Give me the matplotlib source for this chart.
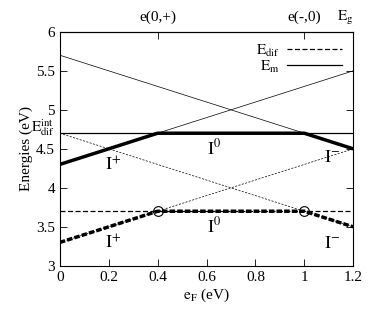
import matplotlib
matplotlib.use("Agg")
import matplotlib.pyplot as plt
import matplotlib.transforms as mtransforms
import numpy as np

# data (eV)
ef = [0.0, 1.2]
em_plus = [4.3, 5.5]      # I+ branch of E_m
em_minus = [5.7, 4.5]     # I- branch of E_m
em_zero = [4.7, 4.7]      # I0 level (E_dif^int)
edif_plus = [3.3, 4.5]
edif_minus = [4.7, 3.5]
edif_zero = [3.7, 3.7]

ef_env = [0.0, 0.4, 1.0, 1.2]
em_env = [4.3, 4.7, 4.7, 4.5]
edif_env = [3.3, 3.7, 3.7, 3.5]

circ_x = [0.4, 1.0]
circ_y = [3.7, 3.7]

plt.rcParams['font.family'] = ['Liberation Serif', 'DejaVu Serif']
plt.rcParams['mathtext.fontset'] = 'stix'
fs = 11

fig = plt.figure(figsize=(3.81, 3.12), dpi=100)
ax = fig.add_axes([0.157, 0.148, 0.770, 0.750])

# E_dif lines
ln_dif, = ax.plot(ef, edif_zero, color='black', lw=0.9, ls=(0, (4, 2)))
ax.plot(ef, edif_plus, color='black', lw=0.5, ls=(0, (3, 2)))
ax.plot(ef, edif_minus, color='black', lw=0.5, ls=(0, (3, 2)))
ax.plot(ef_env, edif_env, color='black', lw=2.5, ls=(0, (1.6, 0.6)))
ax.plot(circ_x, circ_y, 'o', mfc='none', mec='black', ms=7, mew=0.8)

# E_m lines
ln_m, = ax.plot(ef, em_zero, color='black', lw=0.9)
ax.plot(ef, em_plus, color='black', lw=0.5)
ax.plot(ef, em_minus, color='black', lw=0.5)
ax.plot(ef_env, em_env, color='black', lw=2.5, solid_capstyle='butt')

# region labels
lab = fs + 2
ax.text(0.22, 4.29, r'$\mathrm{I^{+}}$', fontsize=lab, ha='center', va='center')
ax.text(0.63, 4.5, r'$\mathrm{I^{0}}$', fontsize=lab, ha='center', va='center')
ax.text(1.115, 4.39, r'$\mathrm{I^{-}}$', fontsize=lab, ha='center', va='center')
ax.text(0.22, 3.29, r'$\mathrm{I^{+}}$', fontsize=lab, ha='center', va='center')
ax.text(0.63, 3.5, r'$\mathrm{I^{0}}$', fontsize=lab, ha='center', va='center')
ax.text(1.115, 3.28, r'$\mathrm{I^{-}}$', fontsize=lab, ha='center', va='center')

ax.set_xlim(0, 1.2)
ax.set_ylim(3, 6)
ax.set_xticks([0, 0.2, 0.4, 0.6, 0.8, 1.0, 1.2])
ax.set_xticklabels(['0', '0.2', '0.4', '0.6', '0.8', '1', '1.2'])
ax.set_yticks([3, 3.5, 4, 4.5, 5, 5.5, 6])
ax.set_yticklabels(['3', '3.5', '4', '4.5', '5', '5.5', '6'])
ax.tick_params(direction='in', labelsize=fs, top=False, right=True, length=5, width=0.6)

# E_dif^int marker on the y axis
trans = mtransforms.blended_transform_factory(ax.transAxes, ax.transData)
ax.text(-0.015, 4.77, r'$\mathrm{E_{dif}^{int}}$', transform=trans, fontsize=fs,
        ha='right', va='center')

top = ax.secondary_xaxis('top')
top.set_xticks([0.4, 1.0, 1.2])
top.set_xticklabels(['e(0,+)', 'e(-,0)', r'$\mathrm{E_g}$'])
top.tick_params(direction='in', labelsize=fs, length=5, width=0.6, pad=8)
for t in top.get_xticklabels():
    t.set_va('baseline')
top.get_xticklabels()[2].set_ha('right')

ax.set_xlabel(r'$\mathrm{e_F}$ (eV)', fontsize=fs, labelpad=2)
ax.set_ylabel('Energies (eV)', fontsize=fs, labelpad=2)

leg = ax.legend([ln_dif, ln_m], [r'$\mathrm{E_{dif}}$', r'$\mathrm{E_m}$'],
                loc='upper right', frameon=False, fontsize=fs, handlelength=3.6,
                markerfirst=False, borderaxespad=0.3, labelspacing=0.0, handletextpad=0.5)

for s in ax.spines.values():
    s.set_linewidth(0.8)

fig.savefig('out.png', dpi=100)
